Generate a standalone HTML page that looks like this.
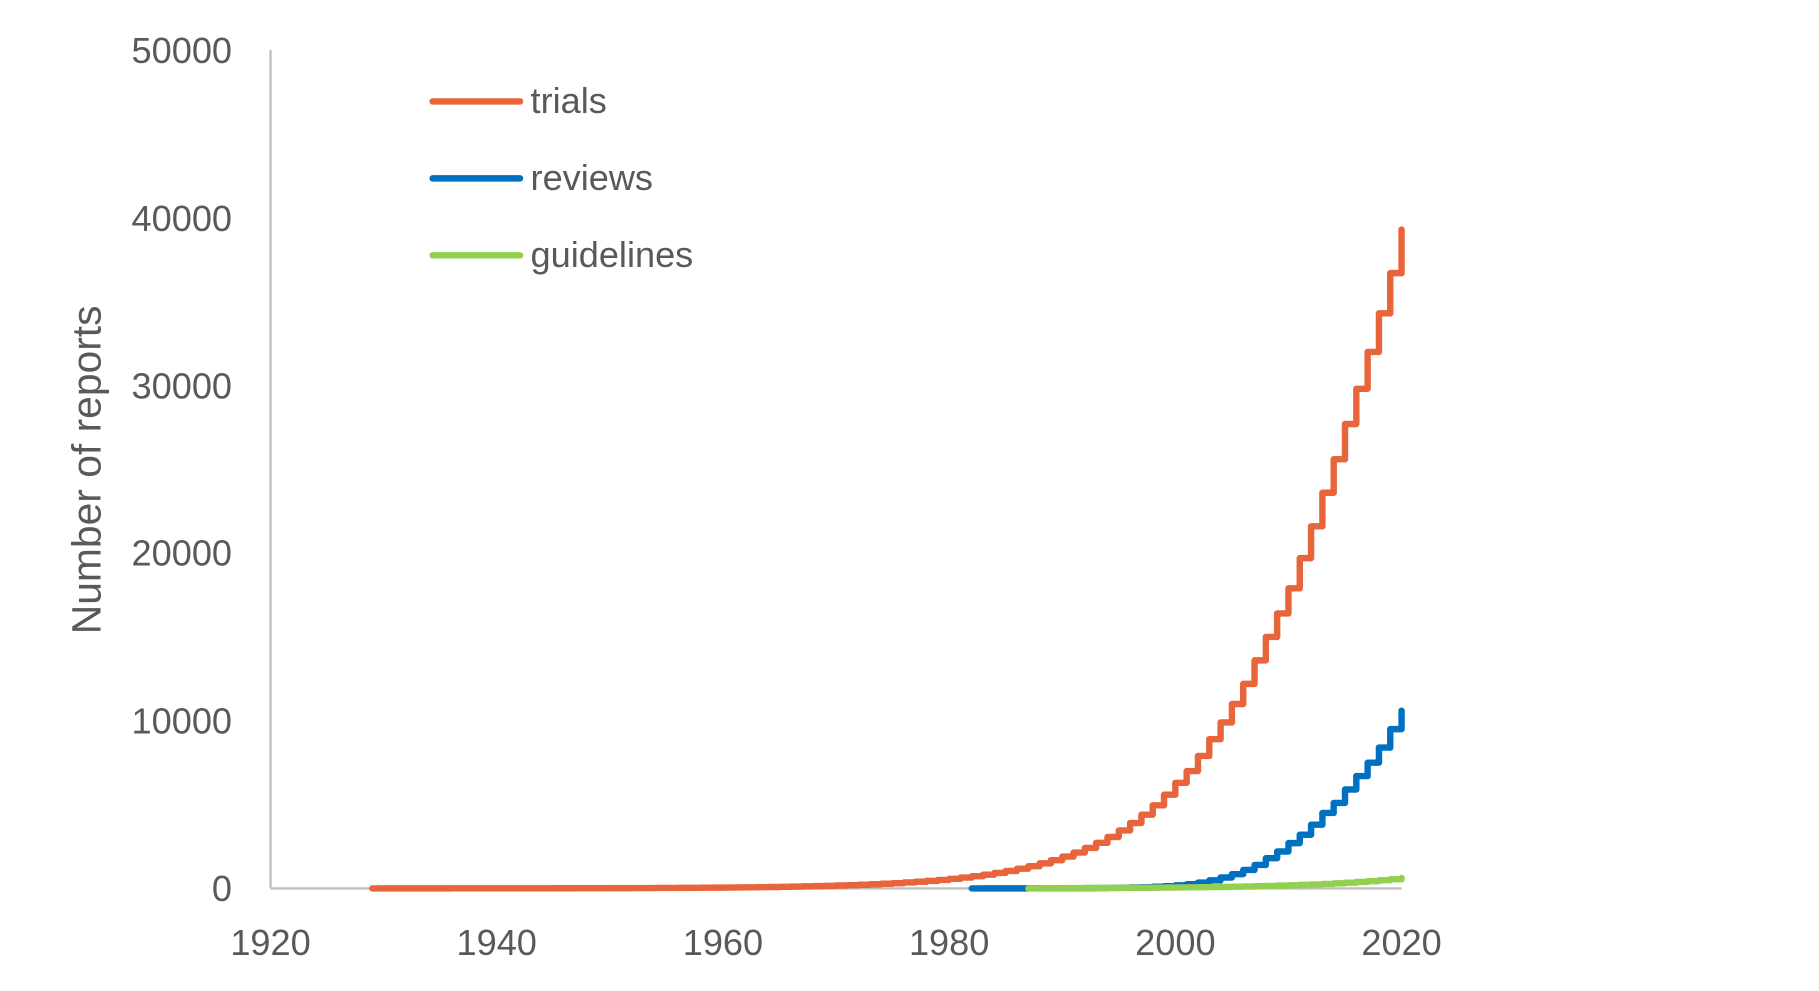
<!DOCTYPE html>
<html><head><meta charset="utf-8"><style>
html,body{margin:0;padding:0;background:#fff;}
svg{display:block;}
text{font-family:"Liberation Sans",sans-serif;fill:#595959;}
</style></head><body>
<svg id="s" width="1819" height="991" viewBox="0 0 1560 850" preserveAspectRatio="none">
<line x1="232" y1="43" x2="232" y2="762" stroke="#BFBFBF" stroke-width="2"/>
<line x1="232" y1="762" x2="1202" y2="762" stroke="#BFBFBF" stroke-width="2"/>
<g font-size="31" text-anchor="end">
<text x="199" y="773">0</text>
<text x="199" y="629">10000</text>
<text x="199" y="485">20000</text>
<text x="199" y="342">30000</text>
<text x="199" y="198">40000</text>
<text x="199" y="54">50000</text>
</g>
<g font-size="31" text-anchor="middle">
<text x="232" y="819">1920</text>
<text x="426" y="819">1940</text>
<text x="620" y="819">1960</text>
<text x="814" y="819">1980</text>
<text x="1008" y="819">2000</text>
<text x="1202" y="819">2020</text>
</g>
<text font-size="35" text-anchor="middle" transform="translate(86,403) rotate(-90)">Number of reports</text>
<g stroke-width="5.5" stroke-linecap="round">
<line x1="371" y1="87" x2="446" y2="87" stroke="#E8643A"/>
<line x1="371" y1="153" x2="446" y2="153" stroke="#0070C0"/>
<line x1="371" y1="219" x2="446" y2="219" stroke="#92D050"/>
</g>
<g font-size="31">
<text x="455" y="97">trials</text>
<text x="455" y="163">reviews</text>
<text x="455" y="229">guidelines</text>
</g>
<g id="series" fill="none" stroke-width="5.5" stroke-linejoin="round" stroke-linecap="round"></g>
</svg>
<script>
function X(y){return 232+(y-1920)*9.7;}
function Y(v){return 762-v*0.01438;}
function path(vals,start,color){
  var d="M"+X(start)+","+Y(0);
  var prev=0;
  for(var yr=start+1;yr<=2020;yr++){
    var v=vals(yr);
    d+=" L"+X(yr)+","+Y(prev)+" L"+X(yr)+","+Y(v);
    prev=v;
  }
  var p=document.createElementNS("http://www.w3.org/2000/svg","path");
  p.setAttribute("d",d);p.setAttribute("stroke",color);
  document.getElementById("series").appendChild(p);
}
var tr={2000:6300,2001:7000,2002:7900,2003:8900,2004:9900,2005:11000,2006:12200,2007:13600,2008:15000,2009:16400,2010:17900,2011:19700,2012:21600,2013:23600,2014:25600,2015:27700,2016:29800,2017:32000,2018:34300,2019:36700,2020:39300};
var rv={2000:180,2001:250,2002:350,2003:480,2004:650,2005:850,2006:1100,2007:1400,2008:1800,2009:2200,2010:2700,2011:3200,2012:3800,2013:4500,2014:5100,2015:5900,2016:6700,2017:7500,2018:8400,2019:9500,2020:10600};
path(function(y){return y>=2000?tr[y]:6300*Math.exp(-0.12*(2000-y));},1929,"#E8643A");
path(function(y){return y>=2000?rv[y]:180*Math.exp(-0.3*(2000-y));},1982,"#0070C0");
path(function(y){return 620*Math.exp(-0.12*(2020-y));},1987,"#92D050");
</script>
</body></html>
